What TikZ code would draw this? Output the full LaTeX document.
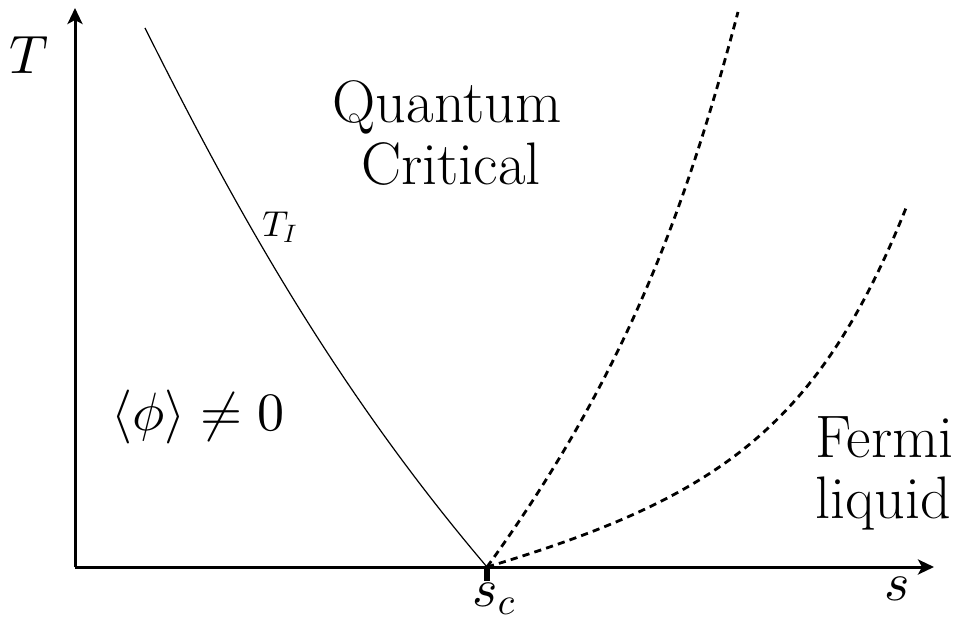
\documentclass[tikz,border=0pt]{standalone}
\DeclareFontShape{OML}{cmm}{m}{it}{<->cmmi10}{}
\DeclareFontShape{OMS}{cmsy}{m}{n}{<->cmsy10}{}
\DeclareFontShape{OMX}{cmex}{m}{n}{<->cmex10}{}
\DeclareFontShape{OT1}{cmr}{m}{n}{<->cmr10}{}
\usetikzlibrary{arrows.meta}
\begin{document}
\begin{tikzpicture}[x=0.5pt,y=-0.5pt,
  axis/.style={line width=1.5pt,-{Stealth[length=8pt,width=7.5pt,inset=2pt]}},
  phase/.style={line width=0.6pt},
  cross/.style={line width=1.4pt,dash pattern=on 3.6pt off 2.6pt},
  big/.style={font=\fontsize{30}{31}\selectfont,inner sep=0pt},
  mathlab/.style={font=\fontsize{27}{30}\selectfont,inner sep=0pt},
  small/.style={font=\fontsize{18}{22}\selectfont,inner sep=0pt}]
\useasboundingbox (0,0) rectangle (956,619);
\coordinate (O) at (75,567);
\coordinate (Ttop) at (75,8);
\coordinate (Sright) at (934,567);
\coordinate (sc) at (487,567);
\coordinate (sctick) at (487,581);
\coordinate (TIstart) at (145,28);
\coordinate (QCend) at (738,12);
\coordinate (FLend) at (906,208);
\draw[axis] (O) -- (Ttop);
\draw[axis] (O) -- (Sright);
\draw[line width=3pt] (sc) -- (sctick);
% phase boundary T_I
\draw[phase] (TIstart) .. controls (235,208) and (334,387) .. (sc);
% crossover lines
\draw[cross] (sc) .. controls (630,370) and (688,200) .. (QCend);
\draw[cross] (sc) .. controls (717,498) and (818,428) .. (FLend);
% labels
\node[mathlab,anchor=base] (Tlab) at (29,74) {$T$};
\node[mathlab,anchor=base] (slab) at (897,600) {$s$};
\node[mathlab,anchor=base] (sclab) at (494,606) {$s_c$};
\node[small,anchor=base west] (TIlab) at (262,237) {$T_I$};
\node[big,anchor=base] (Q) at (447,123) {Quantum};
\node[big,anchor=base] (C) at (451,185) {Critical};
\node[mathlab,anchor=base west] (order) at (111,430) {$\langle\phi\rangle\neq 0$};
\node[big,anchor=base west] (F) at (815,457) {Fermi};
\node[big,anchor=base west] (L) at (815,518) {liquid};
\end{tikzpicture}
\end{document}
